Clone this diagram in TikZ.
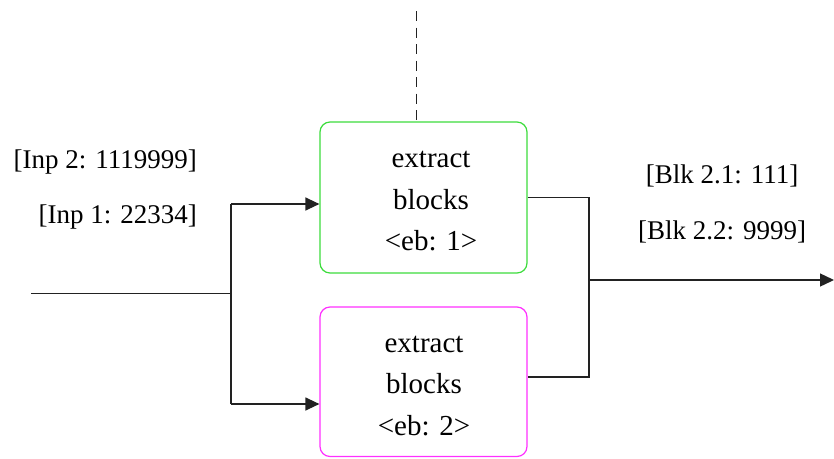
\documentclass[tikz,border=0pt]{standalone}
\usepackage{fontspec}
\setmainfont{Liberation Serif}
\usetikzlibrary{arrows.meta}
\definecolor{boxgreen}{HTML}{3CDC3C}
\definecolor{boxmagenta}{HTML}{FF30FF}
\definecolor{wire}{HTML}{222222}
\tikzset{
  blockbox/.style={draw, line width=1.2pt, rounded corners=10pt, inner sep=0pt},
  blocktext/.style={align=center, inner sep=0pt, font=\fontsize{29}{41.5}\selectfont},
  flowlabel/.style={inner sep=0pt, font=\fontsize{27}{32}\selectfont},
  wireline/.style={draw=wire, line width=1.3pt},
  flowarrow/.style={wireline, -{Triangle[length=14pt, width=13pt]}},
}
\begin{document}
\begin{tikzpicture}[x=1pt, y=-1pt]
  \useasboundingbox (0,0) rectangle (834,458);

  % the two extractor blocks
  \node[blockbox, draw=boxgreen, minimum width=207pt, minimum height=151pt] (eb1) at (423.5,197.5) {};
  \node[blockbox, draw=boxmagenta, minimum width=207pt, minimum height=149.5pt] (eb2) at (423.5,381.75) {};
  \node[blocktext] (eb1text) at (431,201.5) {extract\\blocks\\<eb: 1>};
  \node[blocktext] (eb2text) at (424,386) {extract\\blocks\\<eb: 2>};

  % dashed control line entering from the top
  \coordinate (ctrl) at (416.5,11);
  \draw[wireline, dash pattern=on 10pt off 6.5pt] (ctrl) -- (ctrl |- eb1.north);

  % input splitter
  \coordinate (src) at (31,293.5);
  \coordinate (split) at (231,293.5);
  \coordinate (in1) at (231,204);
  \coordinate (in2) at (231,404);
  \draw[wireline] (src) -- (split);
  \draw[wireline] (in1) -- (in2);
  \draw[flowarrow] (in1) -- (in1 -| eb1.west);
  \draw[flowarrow] (in2) -- (in2 -| eb2.west);

  % output merger
  \coordinate (out1) at (589,197.5);
  \coordinate (out2) at (589,377);
  \coordinate (merge) at (589,280);
  \coordinate (sink) at (834,280);
  \draw[wireline] (out1 -| eb1.east) -- (out1) -- (out2) -- (out2 -| eb2.east);
  \draw[flowarrow] (merge) -- (sink);

  % data labels
  \node[flowlabel, anchor=east] (inp2) at (197,162) {[Inp 2: 1119999]};
  \node[flowlabel, anchor=east] (inp1) at (197,217) {[Inp 1: 22334]};
  \node[flowlabel] (blk21) at (722,176) {[Blk 2.1: 111]};
  \node[flowlabel] (blk22) at (722,232) {[Blk 2.2: 9999]};
\end{tikzpicture}
\end{document}
